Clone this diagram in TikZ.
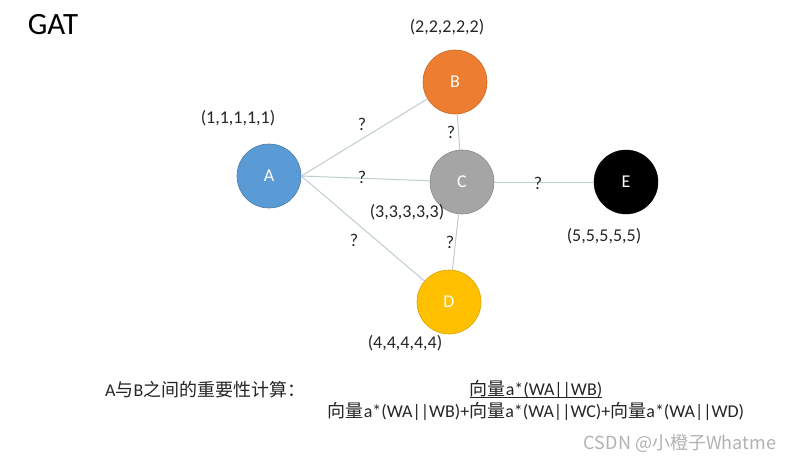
\documentclass[tikz,border=0pt]{standalone}
\usepackage{fontspec}
\setmainfont{Carlito}
\newfontfamily\cjk{Noto Sans CJK SC}
\definecolor{nodeA}{HTML}{5B9BD5}
\definecolor{nodeB}{HTML}{ED7D31}
\definecolor{nodeC}{HTML}{A5A5A5}
\definecolor{nodeD}{HTML}{FFC000}
\definecolor{edgecol}{HTML}{BFCCD0}
\definecolor{txt}{HTML}{262626}
\tikzset{
  gnode/.style={circle,minimum size=64pt,inner sep=0pt,text=white,font=\fontsize{18}{18}\selectfont},
  vec/.style={text=txt,font=\fontsize{18}{18}\selectfont,inner sep=0pt},
  qm/.style={text=txt,font=\fontsize{18}{18}\selectfont,inner sep=0pt},
  edge/.style={draw=edgecol,line width=1pt}
}
\begin{document}
\begin{tikzpicture}[x=1pt,y=-1pt]
\useasboundingbox (0,0) rectangle (801,463);
\fill[white] (0,0) rectangle (801,463);
\node[font=\fontsize{31}{31}\selectfont,inner sep=0pt] (title) at (53,25) {GAT};
\node[gnode,fill=nodeA,draw=nodeA!80!black,line width=0.6pt] (A) at (269,176) {A};
\node[gnode,fill=nodeB,draw=nodeB!85!black,line width=0.6pt] (B) at (455,82) {B};
\node[gnode,fill=nodeC,draw=nodeC!85!black,line width=0.6pt] (C) at (462,182) {C};
\node[gnode,fill=nodeD,draw=nodeD!85!black,line width=0.6pt] (D) at (449,302) {D};
\node[gnode,fill=black,draw=black] (E) at (626,182) {E};
\draw[edge] (A.east) -- (B);
\draw[edge] (A.east) -- (C);
\draw[edge] (A.east) -- (D);
\draw[edge] (B) -- (C);
\draw[edge] (C) -- (D);
\draw[edge] (C) -- (E);
\node[vec] (la) at (238,118) {(1,1,1,1,1)};
\node[vec] (lb) at (447,27) {(2,2,2,2,2)};
\node[vec] (lc) at (407,212) {(3,3,3,3,3)};
\node[vec] (ld) at (405,343) {(4,4,4,4,4)};
\node[vec] (le) at (604,236) {(5,5,5,5,5)};
\node[qm] (q1) at (362,124) {?};
\node[qm] (q2) at (362,177) {?};
\node[qm] (q3) at (354,240) {?};
\node[qm] (q4) at (451,132) {?};
\node[qm] (q5) at (450,242) {?};
\node[qm] (q6) at (538,183) {?};
\node[vec,anchor=west] (calc) at (105,390) {A{\cjk 与}B{\cjk 之间的重要性计算：}};
\node[vec] (num) at (536,389) {{\cjk 向量}a*(WA||WB)};
\draw[txt,line width=0.8pt] ([yshift=-2.5pt]num.base west) -- ([yshift=-2.5pt]num.base east);
\node[vec] (den) at (536,411) {{\cjk 向量}a*(WA||WB)+{\cjk 向量}a*(WA||WC)+{\cjk 向量}a*(WA||WD)};
\node[font=\cjk\fontsize{18}{18}\selectfont,text=black!30,inner sep=0pt] (wm) at (680,443) {CSDN @小橙子Whatme};
\end{tikzpicture}
\end{document}
